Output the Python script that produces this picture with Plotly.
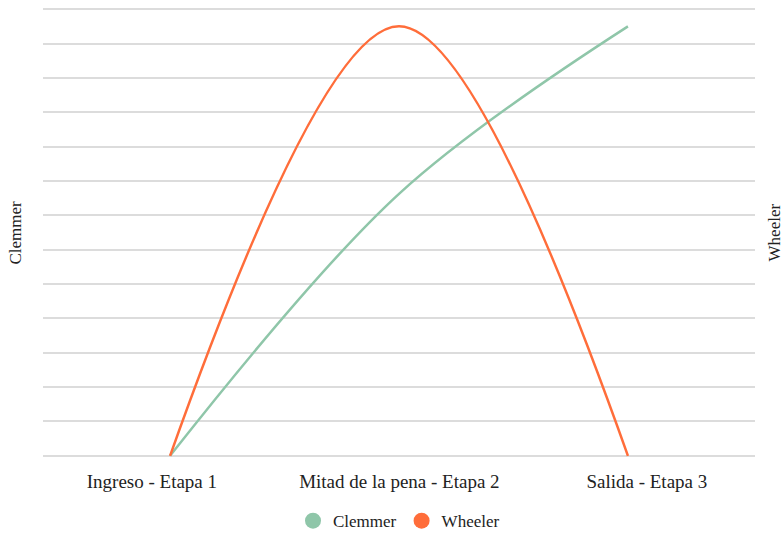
import plotly.graph_objects as go

categories = ["Ingreso - Etapa 1", "Mitad de la pena - Etapa 2", "Salida - Etapa 3"]
clemmer = [0, 61, 100]
wheeler = [0, 100, 0]

GREEN = "#8fc6a9"
ORANGE = "#ff6d3a"
FONT = "Liberation Serif"
TXT = "#222"

fig = go.Figure()
fig.add_trace(go.Scatter(x=categories, y=clemmer, mode="lines", name="Clemmer",
                         line=dict(color=GREEN, width=2.5, shape="spline"),
                         showlegend=False, yaxis="y"))
fig.add_trace(go.Scatter(x=categories, y=wheeler, mode="lines", name="Wheeler",
                         line=dict(color=ORANGE, width=2.5, shape="spline"),
                         showlegend=False, yaxis="y2"))
# empty trace that carries the category labels axis
fig.add_trace(go.Scatter(x=categories, y=[None] * len(categories), mode="lines",
                         xaxis="x2", yaxis="y", showlegend=False, hoverinfo="skip"))
fig.add_trace(go.Scatter(x=[None], y=[None], mode="markers", name="Clemmer",
                         marker=dict(color=GREEN, size=20, symbol="circle")))
fig.add_trace(go.Scatter(x=[None], y=[None], mode="markers", name="Wheeler",
                         marker=dict(color=ORANGE, size=20, symbol="circle")))

yr = [-0.5, 104.5]
fig.update_layout(
    width=783, height=534,
    margin=dict(l=43, r=28, t=7, b=76, autoexpand=False),
    plot_bgcolor="white", paper_bgcolor="white",
    font=dict(family=FONT, color=TXT, size=17),
    xaxis=dict(range=[-0.555, 2.555], showgrid=False, zeroline=False, showline=False,
               ticks="", showticklabels=False, automargin=False),
    xaxis2=dict(range=[-0.44, 2.437], overlaying="x", anchor="y", side="bottom",
                showgrid=False, zeroline=False, showline=False, ticks="",
                ticklabelstandoff=10, tickfont=dict(size=19, color=TXT), automargin=False),
    yaxis=dict(range=yr, tick0=0, dtick=8, showticklabels=False, showgrid=True,
               gridcolor="#dcdcdc", gridwidth=2, zeroline=False, showline=False,
               automargin=False),
    yaxis2=dict(range=yr, overlaying="y", side="right", showticklabels=False, showgrid=False,
                zeroline=False, showline=False, automargin=False),
    legend=dict(orientation="h", x=0.5, xanchor="center", y=-0.1, yanchor="top",
                font=dict(size=17, color=TXT), itemsizing="trace"),
    annotations=[
        dict(text="Clemmer", xref="paper", yref="paper", x=-0.0393, y=0.5,
             textangle=-90, showarrow=False, font=dict(size=17, color=TXT),
             xanchor="center", yanchor="middle"),
        dict(text="Wheeler", xref="paper", yref="paper", x=1.028, y=0.5,
             textangle=-90, showarrow=False, font=dict(size=17, color=TXT),
             xanchor="center", yanchor="middle"),
    ],
)
fig.write_html("out.html", config={"displayModeBar": False},
               post_script="document.body.style.margin='0';")
